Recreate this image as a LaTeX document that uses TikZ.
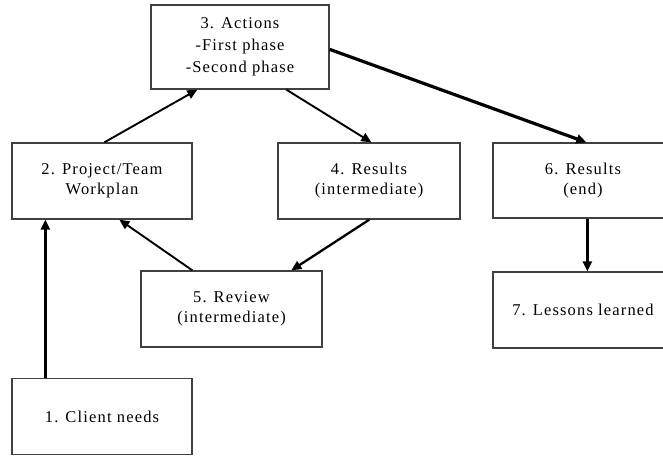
\documentclass[tikz,border=0pt]{standalone}
\usepackage{fontspec}
\setmainfont{Liberation Serif}[LetterSpace=7]
\usetikzlibrary{arrows.meta}
\begin{document}
\begin{tikzpicture}[x=1pt,y=-1pt,
  box/.style={draw=black!75, line width=1.3pt, fill=white, minimum width=180pt, minimum height=76pt,
    align=center, inner sep=0pt, font=\fontsize{16.5}{20}\selectfont},
  thin arrow/.style={line width=1.9pt, -{Triangle[length=10pt,width=9pt]}},
  thick arrow/.style={line width=3.2pt, -{Triangle[length=10pt,width=9pt]}}]
\clip (0,0) rectangle (663,455);
\fill[white] (0,0) rectangle (663,455);
\node[box, minimum width=178pt, minimum height=84pt, font=\fontsize{16.5}{22}\selectfont] (b3) at (240,47) {3. Actions\\-First phase\\-Second phase};
\node[box] (b2) at (102,181) {2. Project/Team\\Workplan};
\node[box, minimum width=182pt] (b4) at (369,181) {4. Results\\(intermediate)};
\node[box, minimum height=75pt] (b6) at (583,180.5) {6. Results\\(end)};
\node[box, minimum width=181pt] (b5) at (231.5,309) {5. Review\\(intermediate)};
\node[box] (b7) at (583,310) {7. Lessons learned};
\node[box] (b1) at (102,416.5) {1. Client needs};
\draw[thick arrow] ([xshift=34pt]b1.north west) -- ([xshift=34pt]b2.south west);
\draw[thin arrow] ([xshift=93pt]b2.north west) -- ([xshift=47pt]b3.south west);
\draw[thin arrow] ([xshift=136pt]b3.south west) -- ([xshift=94pt]b4.north west);
\draw[thick arrow] ([yshift=-45pt]b3.north east) -- ([xshift=94pt]b6.north west);
\draw[thin arrow, line width=2.3pt] ([xshift=92pt]b4.south west) -- ([xshift=151pt]b5.north west);
\draw[thin arrow] ([xshift=52pt]b5.north west) -- ([xshift=108pt]b2.south west);
\draw[thick arrow] ([xshift=95pt]b6.south west) -- ([xshift=95pt]b7.north west);
\end{tikzpicture}
\end{document}
